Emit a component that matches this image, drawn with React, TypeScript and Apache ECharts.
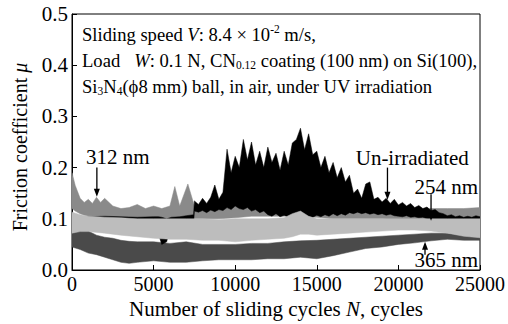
import React, { useEffect, useRef } from "react";
import * as echarts from "echarts";

const FONT = "Liberation Serif";

// Axis ticks
const cycleTicks = [0, 5000, 10000, 15000, 20000, 25000];
const muTicks = [0, 0.1, 0.2, 0.3, 0.4, 0.5];

// 365 nm (dark grey band): sampled cycles, lower and upper envelope of μ
const cycles365 = [0, 500, 1000, 1500, 2000, 2500, 3000, 3500, 4000, 5000, 6000, 7000, 8000, 9000, 10000, 11000, 12000, 13000, 14000, 15000, 16000, 17000, 18000, 19000, 20000, 21000, 22000, 23000, 24000, 25000];
const mu365High = [0.072, 0.078, 0.076, 0.068, 0.064, 0.062, 0.058, 0.056, 0.055, 0.055, 0.052, 0.055, 0.05, 0.05, 0.05, 0.052, 0.052, 0.055, 0.057, 0.058, 0.06, 0.062, 0.064, 0.066, 0.068, 0.07, 0.072, 0.072, 0.068, 0.064];
const mu365Low = [0.045, 0.04, 0.033, 0.03, 0.025, 0.02, 0.015, 0.013, 0.015, 0.018, 0.015, 0.015, 0.018, 0.02, 0.02, 0.02, 0.022, 0.022, 0.025, 0.022, 0.028, 0.035, 0.042, 0.045, 0.05, 0.053, 0.057, 0.06, 0.058, 0.058];

// 312 nm (mid grey band)
const cycles312 = [0, 200, 500, 750, 1000, 1250, 1500, 1750, 2000, 2500, 3000, 3500, 4000, 4500, 5000, 5500, 6000, 6300, 6600, 7100, 7500, 8000, 9000, 10000, 11000, 12000, 13000, 13500, 14000, 14500, 15000, 16000, 17000, 18000, 19000, 20000, 21000, 22000, 23000, 24000, 25000];
const mu312High = [0.19, 0.165, 0.14, 0.132, 0.138, 0.13, 0.142, 0.132, 0.14, 0.125, 0.12, 0.122, 0.128, 0.12, 0.125, 0.12, 0.125, 0.163, 0.125, 0.168, 0.125, 0.12, 0.12, 0.125, 0.13, 0.128, 0.13, 0.15, 0.14, 0.12, 0.115, 0.117, 0.115, 0.116, 0.115, 0.117, 0.118, 0.12, 0.12, 0.12, 0.122];
const mu312Low = [0.12, 0.115, 0.11, 0.107, 0.105, 0.105, 0.105, 0.105, 0.105, 0.103, 0.102, 0.102, 0.102, 0.102, 0.1, 0.1, 0.1, 0.1, 0.1, 0.1, 0.1, 0.1, 0.1, 0.102, 0.105, 0.105, 0.105, 0.107, 0.105, 0.103, 0.103, 0.1, 0.1, 0.1, 0.1, 0.098, 0.097, 0.096, 0.095, 0.095, 0.095];

// Un-irradiated (black band)
const cyclesDark = [0, 1000, 2000, 3000, 4000, 5000, 5300, 5500, 5800, 6100, 6600, 7000, 7450,
  7500, 7750, 8000, 8250, 8500, 8750, 9000, 9250, 9500, 9750, 10000, 10250, 10500, 10750, 11000, 11250, 11500, 11750,
  12000, 12250, 12500, 12750, 13000, 13250, 13500, 13750, 14000, 14250, 14500, 14750, 15000, 15250, 15500, 15750,
  16000, 16250, 16500, 16750, 17000, 17250, 17500, 17750, 18000, 18250, 18500, 18750, 19000, 19250, 19500, 19750,
  20000, 20250, 20500, 20750, 21000, 21250, 21500, 21750, 22000, 22250, 22500, 22750, 23000, 23250, 23500, 23750,
  24000, 24250, 24500, 24750, 25000];
const muDarkHigh = [0.104, 0.104, 0.105, 0.104, 0.103, 0.104, 0.104, 0.103, 0.1, 0.103, 0.104, 0.106, 0.108,
  0.135, 0.128, 0.14, 0.13, 0.142, 0.166, 0.138, 0.152, 0.236, 0.19, 0.222, 0.2, 0.255, 0.215, 0.25, 0.205, 0.232, 0.2,
  0.24, 0.21, 0.228, 0.195, 0.232, 0.205, 0.248, 0.255, 0.277, 0.235, 0.266, 0.225, 0.232, 0.2, 0.222, 0.19,
  0.21, 0.18, 0.2, 0.172, 0.185, 0.15, 0.158, 0.14, 0.168, 0.172, 0.138, 0.142, 0.133, 0.14, 0.13, 0.138,
  0.127, 0.132, 0.125, 0.13, 0.122, 0.126, 0.12, 0.123, 0.116, 0.118, 0.112, 0.11, 0.106, 0.108, 0.104, 0.106,
  0.103, 0.105, 0.103, 0.106, 0.104];
const muDarkLow = [0.096, 0.097, 0.098, 0.097, 0.096, 0.096, 0.07, 0.05, 0.055, 0.09, 0.095, 0.09, 0.09,
  0.115, 0.113, 0.116, 0.112, 0.117, 0.114, 0.118, 0.116, 0.122, 0.118, 0.125, 0.12, 0.118, 0.122, 0.115, 0.118, 0.112, 0.115,
  0.108, 0.105, 0.11, 0.104, 0.107, 0.103, 0.108, 0.104, 0.106, 0.102, 0.105, 0.103, 0.107, 0.104, 0.108, 0.105,
  0.11, 0.106, 0.11, 0.107, 0.112, 0.11, 0.113, 0.11, 0.112, 0.109, 0.111, 0.108, 0.11, 0.107, 0.109, 0.106,
  0.105, 0.104, 0.106, 0.103, 0.104, 0.102, 0.103, 0.1, 0.098, 0.096, 0.095, 0.094, 0.093, 0.092, 0.094, 0.091,
  0.092, 0.09, 0.092, 0.09, 0.091];

// 254 nm (light grey band)
const cycles254 = [0, 500, 1000, 2000, 3000, 4000, 5000, 6000, 7000, 8000, 9000, 10000, 11000, 12000, 13000, 13500, 14000, 14500, 15000, 16000, 17000, 18000, 19000, 20000, 21000, 22000, 23000, 24000, 25000];
const mu254High = [0.113, 0.108, 0.105, 0.103, 0.102, 0.1, 0.1, 0.1, 0.1, 0.1, 0.098, 0.1, 0.1, 0.1, 0.102, 0.11, 0.115, 0.105, 0.1, 0.1, 0.1, 0.1, 0.1, 0.1, 0.1, 0.1, 0.1, 0.1, 0.1];
const mu254Low = [0.072, 0.075, 0.075, 0.072, 0.068, 0.065, 0.062, 0.06, 0.06, 0.058, 0.058, 0.055, 0.058, 0.06, 0.062, 0.065, 0.07, 0.07, 0.068, 0.07, 0.072, 0.074, 0.076, 0.078, 0.078, 0.076, 0.072, 0.066, 0.063];

// One filled polygon per trace: upper envelope left→right, lower envelope back
function band(name: string, xs: number[], lo: number[], hi: number[], color: string) {
  return {
    type: "custom",
    name,
    silent: true,
    clip: true,
    encode: { x: 0, y: [1, 2] },
    data: xs.map((x, i) => [x, lo[i], hi[i]]),
    renderItem: (params: any, api: any) => {
      if (params.dataIndex !== 0) return null;
      const upper = xs.map((x, i) => api.coord([x, hi[i]]));
      const lower = xs.map((x, i) => api.coord([x, lo[i]])).reverse();
      return {
        type: "polygon",
        shape: { points: upper.concat(lower) },
        style: { fill: color, stroke: color, lineWidth: 0.5 },
      };
    },
  };
}

const serifRich = (size: number) => ({
  t: { fontFamily: FONT, fontSize: size, fill: "#000", color: "#000" },
  i: { fontFamily: FONT, fontSize: size, fontStyle: "italic", fill: "#000", color: "#000" },
});

export default function App() {
  const ref = useRef<HTMLDivElement>(null);

  useEffect(() => {
    const chart = echarts.init(ref.current!, null, { renderer: "svg" });
    const axisRich = serifRich(20);
    chart.setOption({
      animation: false,
      backgroundColor: "#fff",
      grid: { left: 72, right: 26, top: 14, bottom: 54, show: true, borderColor: "#000", borderWidth: 1 },
      xAxis: {
        type: "value",
        min: cycleTicks[0],
        max: cycleTicks[cycleTicks.length - 1],
        interval: cycleTicks[1] - cycleTicks[0],
        axisLine: { lineStyle: { color: "#000", width: 1 } },
        axisTick: { inside: true, length: 5, lineStyle: { color: "#000" } },
        axisLabel: { color: "#000", margin: 4, rich: axisRich, formatter: (v: number) => `{t|${v}}` },
        splitLine: { show: false },
      },
      yAxis: {
        type: "value",
        min: muTicks[0],
        max: muTicks[muTicks.length - 1],
        interval: 0.1,
        axisLine: { show: true, lineStyle: { color: "#000", width: 1 } },
        axisTick: { show: true, inside: true, length: 5, lineStyle: { color: "#000" } },
        axisLabel: { color: "#000", margin: 4, rich: serifRich(21), formatter: (v: number) => `{t|${v.toFixed(1)}}` },
        splitLine: { show: false },
      },
      series: [
        band("365 nm", cycles365, mu365Low, mu365High, "#4a4a4a"),
        band("312 nm", cycles312, mu312Low, mu312High, "#8a8a8a"),
        band("Un-irradiated", cyclesDark, muDarkLow, muDarkHigh, "#000000"),
        band("254 nm", cycles254, mu254Low, mu254High, "#bdbdbd"),
      ],
    });

    const px = (p: number[]) => chart.convertToPixel({ xAxisIndex: 0, yAxisIndex: 0 }, p) as number[];

    const arrow = (from: number[], to: number[]) => {
      const [x1, y1] = px(from);
      const [x2, y2] = px(to);
      const len = Math.hypot(x2 - x1, y2 - y1);
      const ux = (x2 - x1) / len, uy = (y2 - y1) / len;
      const hl = 8, hw = 3;
      const bx = x2 - ux * hl, by = y2 - uy * hl;
      return [
        { type: "line", silent: true, z: 100, shape: { x1, y1, x2: bx + ux * 2, y2: by + uy * 2 }, style: { stroke: "#000", lineWidth: 1.3 } },
        { type: "polygon", silent: true, z: 100, shape: { points: [[x2, y2], [bx - uy * hw, by + ux * hw], [bx + uy * hw, by - ux * hw]] }, style: { fill: "#000" } },
      ];
    };

    const label = (text: string, at: number[]) => {
      const [x, y] = px(at);
      return {
        type: "text", silent: true, z: 100, x, y,
        style: { text: `{t|${text}}`, rich: serifRich(21), fill: "#000", fontFamily: FONT, fontSize: 21, align: "center", verticalAlign: "middle" },
      };
    };

    const small = 18.6;
    const rich = {
      t: { fontFamily: FONT, fontSize: small, lineHeight: 22, fill: "#000" },
      i: { fontFamily: FONT, fontSize: small, fontStyle: "italic", lineHeight: 22, fill: "#000" },
      sub: { fontFamily: FONT, fontSize: 11.5, lineHeight: 11, verticalAlign: "bottom", fill: "#000" },
      sup: { fontFamily: FONT, fontSize: 11.5, lineHeight: 13, verticalAlign: "top", fill: "#000" },
    };
    const note = (text: string, y: number) => ({
      type: "text", silent: true, z: 100, x: 82, y,
      style: { text, rich, fill: "#000", fontFamily: FONT, fontSize: small, lineHeight: 22, align: "left", verticalAlign: "middle" },
    });

    chart.setOption({
      graphic: [
        note("{t|Sliding speed }{i|V}{t|: 8.4 × 10}{sup|-2}{t| m/s,}", 34),
        note("{t|Load   }{i|W}{t|: 0.1 N, CN}{sub|0.12}{t| coating (100 nm) on Si(100),}", 60),
        note("{t|Si}{sub|3}{t|N}{sub|4}{t|(ϕ8 mm) ball, in air, under UV irradiation}", 86),
        label("312 nm", [2805, 0.221]),
        ...arrow([1524, 0.2], [1524, 0.143]),
        label("Un-irradiated", [20850, 0.219]),
        ...arrow([19330, 0.2], [19330, 0.137]),
        label("254 nm", [22930, 0.162]),
        ...arrow([22000, 0.148], [22000, 0.096]),
        label("365 nm", [22930, 0.0195]),
        ...arrow([21630, 0.03], [21630, 0.055]),
        {
          type: "text", silent: true, z: 100, x: 20, y: 147, rotation: Math.PI / 2,
          style: {
            text: "{t|Friction coefficient }{i|μ}", fill: "#000", fontFamily: FONT, fontSize: 20,
            align: "center", verticalAlign: "middle", rich: serifRich(20),
          },
        },
        {
          type: "text", silent: true, z: 100, x: 276, y: 309,
          style: {
            text: "{t|Number of sliding cycles }{i|N}{t|, cycles}", fill: "#000", fontFamily: FONT, fontSize: 21,
            align: "center", verticalAlign: "middle", rich: serifRich(21),
          },
        },
      ],
    });

    return () => chart.dispose();
  }, []);

  return <div ref={ref} style={{ position: "fixed", left: 0, top: 0, width: 508, height: 324 }} />;
}
